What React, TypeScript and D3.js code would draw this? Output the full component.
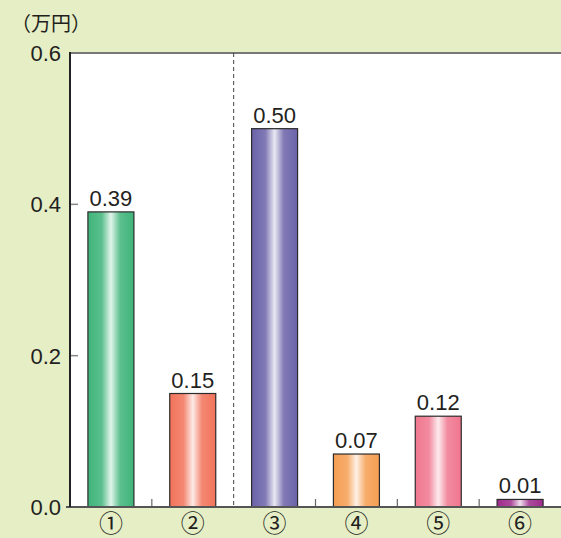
import * as d3 from 'd3';
import React, { useRef, useEffect } from 'react';

const categories = ['①', '②', '③', '④', '⑤', '⑥'];
const values = [0.39, 0.15, 0.50, 0.07, 0.12, 0.01];
const labels = ['0.39', '0.15', '0.50', '0.07', '0.12', '0.01'];
const yTicks = [0, 0.2, 0.4, 0.6];
const barColors = ['#3fb47a', '#f2735a', '#6a63a9', '#f59e52', '#f0778f', '#9e2a8c'];

const W = 561;
const H = 538;
const margin = { top: 53, right: 0, bottom: 31, left: 70 };

export default function App() {
    const ref = useRef<HTMLDivElement>(null);

    useEffect(() => {
        d3.select(ref.current).selectAll('svg').remove();

        const svg = d3.select(ref.current)
            .append('svg')
            .attr('width', W)
            .attr('height', H)
            .style('display', 'block')
            .style('font-family', 'Arial, "Liberation Sans", sans-serif');

        const defs = svg.append('defs');
        barColors.forEach((c, i) => {
            const g = defs.append('linearGradient')
                .attr('id', 'grad' + i)
                .attr('x1', '0%').attr('x2', '100%')
                .attr('y1', '0%').attr('y2', '0%');
            const mix = d3.interpolateRgb(c, '#ffffff');
            g.append('stop').attr('offset', '0%').attr('stop-color', c);
            g.append('stop').attr('offset', '30%').attr('stop-color', mix(0.15));
            g.append('stop').attr('offset', '50%').attr('stop-color', mix(0.85));
            g.append('stop').attr('offset', '70%').attr('stop-color', mix(0.15));
            g.append('stop').attr('offset', '100%').attr('stop-color', c);
        });

        svg.append('rect')
            .attr('width', W).attr('height', H)
            .attr('fill', '#e6eec6');

        const x = d3.scaleBand()
            .domain(categories)
            .range([margin.left, W - margin.right])
            .paddingInner(0)
            .paddingOuter(0);

        const y = d3.scaleLinear()
            .domain([0, 0.6])
            .range([H - margin.bottom, margin.top]);

        // plot area
        svg.append('rect')
            .attr('x', margin.left)
            .attr('y', y(0.6))
            .attr('width', W - margin.left)
            .attr('height', y(0) - y(0.6))
            .attr('fill', '#ffffff');

        // top border
        svg.append('line')
            .attr('x1', margin.left).attr('x2', W)
            .attr('y1', y(0.6)).attr('y2', y(0.6))
            .attr('stroke', '#777').attr('stroke-width', 2);

        // y ticks (inward)
        svg.append('g')
            .selectAll('line')
            .data(yTicks.slice(1, 3))
            .join('line')
            .attr('x1', margin.left).attr('x2', margin.left + 8)
            .attr('y1', d => y(d)).attr('y2', d => y(d))
            .attr('stroke', '#888').attr('stroke-width', 1.5);

        svg.append('g')
            .selectAll('text')
            .data(yTicks)
            .join('text')
            .attr('x', 61)
            .attr('y', d => y(d) + 8)
            .attr('text-anchor', 'end')
            .attr('font-size', 22)
            .attr('fill', '#231f20')
            .text(d => d.toFixed(1));

        // x ticks between bands
        const bounds = categories.slice(1).map(c => x(c) as number);
        svg.append('g')
            .selectAll('line')
            .data(bounds.filter((_, i) => i !== 1))
            .join('line')
            .attr('x1', d => d).attr('x2', d => d)
            .attr('y1', y(0)).attr('y2', y(0) - 8)
            .attr('stroke', '#666').attr('stroke-width', 1.2);

        // dashed separator
        svg.append('line')
            .attr('x1', bounds[1]).attr('x2', bounds[1])
            .attr('y1', y(0.6)).attr('y2', y(0))
            .attr('stroke', '#444').attr('stroke-width', 1)
            .attr('stroke-dasharray', '4,3');

        const bw = 46;
        svg.append('g')
            .selectAll('rect')
            .data(values)
            .join('rect')
            .attr('x', (d, i) => (x(categories[i]) as number) + x.bandwidth() / 2 - bw / 2)
            .attr('y', d => y(d))
            .attr('width', bw)
            .attr('height', d => y(0) - y(d))
            .attr('fill', (d, i) => `url(#grad${i})`)
            .attr('stroke', '#2b2b2b')
            .attr('stroke-width', 1.2);

        svg.append('g')
            .selectAll('text')
            .data(values)
            .join('text')
            .attr('x', (d, i) => (x(categories[i]) as number) + x.bandwidth() / 2)
            .attr('y', d => y(d) - 6)
            .attr('text-anchor', 'middle')
            .attr('font-size', 22)
            .attr('fill', '#231f20')
            .text((d, i) => labels[i]);

        // axes lines
        svg.append('line')
            .attr('x1', margin.left - 4).attr('x2', W)
            .attr('y1', y(0)).attr('y2', y(0))
            .attr('stroke', '#555').attr('stroke-width', 2);
        svg.append('line')
            .attr('x1', margin.left).attr('x2', margin.left)
            .attr('y1', y(0.6) - 1).attr('y2', y(0))
            .attr('stroke', '#222').attr('stroke-width', 2);

        // category labels
        svg.append('g')
            .selectAll('text')
            .data(categories)
            .join('text')
            .attr('x', d => (x(d) as number) + x.bandwidth() / 2)
            .attr('y', 532)
            .attr('text-anchor', 'middle')
            .attr('font-size', 24)
            .attr('font-family', '"Noto Sans CJK JP", sans-serif')
            .attr('fill', '#231f20')
            .text(d => d);

        svg.append('text')
            .attr('x', 11)
            .attr('y', 31)
            .attr('font-size', 20)
            .attr('font-family', '"Noto Sans CJK JP", sans-serif')
            .attr('fill', '#231f20')
            .text('（万円）');
    }, []);

    return <div ref={ref} style={{ position: 'fixed', left: 0, top: 0 }} />;
}
